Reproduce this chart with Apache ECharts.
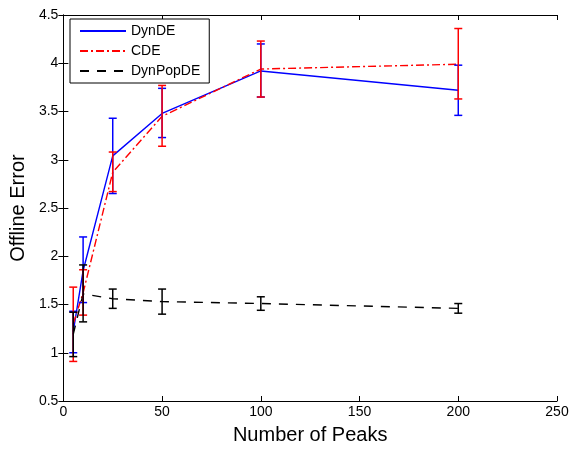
<!DOCTYPE html>
<html>
<head>
<meta charset="utf-8">
<script src="https://cdn.jsdelivr.net/npm/echarts@6/dist/echarts.min.js"></script>
<style>
  html, body { margin: 0; padding: 0; background: #fff; }
  #chart { width: 575px; height: 450px; }
</style>
</head>
<body>
<div id="chart"></div>
<script>
// Number of peaks in the landscape
var peaks = [5, 10, 25, 50, 100, 200];

// DynDE: mean offline error with lower / upper error bar ends
var dynDEMean = [1.22, 1.85, 3.04, 3.48, 3.92, 3.72];
var dynDELow  = [1.00, 1.52, 2.65, 3.23, 3.65, 3.46];
var dynDEHigh = [1.43, 2.20, 3.43, 3.74, 4.20, 3.98];

// CDE
var cdeMean = [1.30, 1.62, 2.87, 3.45, 3.94, 3.99];
var cdeLow  = [0.91, 1.39, 2.67, 3.14, 3.65, 3.63];
var cdeHigh = [1.68, 1.86, 3.08, 3.77, 4.23, 4.36];

// DynPopDE
var dpMean = [1.19, 1.61, 1.56, 1.53, 1.51, 1.46];
var dpLow  = [0.96, 1.32, 1.46, 1.40, 1.44, 1.41];
var dpHigh = [1.42, 1.91, 1.66, 1.66, 1.58, 1.51];

var xTicks = { min: 0, max: 250, interval: 50 };
var yTicks = { min: 0.5, max: 4.5, interval: 0.5 };

var FONT = 'Liberation Sans, Arial, Helvetica, sans-serif';

function pairs(xs, ys) {
  return xs.map(function (x, i) { return [x, ys[i]]; });
}
function triples(xs, lo, hi) {
  return xs.map(function (x, i) { return [x, lo[i], hi[i]]; });
}

// Vertical error bar with short horizontal caps
function errorBar(color) {
  return function (params, api) {
    var x = api.value(0);
    var pLo = api.coord([x, api.value(1)]);
    var pHi = api.coord([x, api.value(2)]);
    var hw = 4;
    var style = { stroke: color, lineWidth: 1.5 };
    return {
      type: 'group',
      children: [
        { type: 'line', shape: { x1: pLo[0], y1: pLo[1], x2: pHi[0], y2: pHi[1] }, style: style },
        { type: 'line', shape: { x1: pLo[0] - hw, y1: pLo[1], x2: pLo[0] + hw, y2: pLo[1] }, style: style },
        { type: 'line', shape: { x1: pHi[0] - hw, y1: pHi[1], x2: pHi[0] + hw, y2: pHi[1] }, style: style }
      ]
    };
  };
}

function lineSeries(name, data, color, type) {
  return {
    name: name,
    type: 'line',
    data: data,
    symbol: 'none',
    lineStyle: { color: color, width: 1.4, type: type },
    itemStyle: { color: color },
    z: 3
  };
}

function barSeries(name, data, color) {
  return {
    name: name,
    type: 'custom',
    renderItem: errorBar(color),
    data: data,
    encode: { x: 0, y: [1, 2] },
    z: 4
  };
}

var tickLabel = { color: '#000', fontFamily: FONT, fontSize: 14 };
var axisLine = { show: true, lineStyle: { color: '#000', width: 1 } };
var axisTick = { show: true, inside: true, length: 5, lineStyle: { color: '#000' } };

var chart = echarts.init(document.getElementById('chart'), null, { renderer: 'canvas' });

chart.setOption({
  animation: false,
  backgroundColor: '#fff',
  grid: { left: 62, right: 18, top: 15, bottom: 47, containLabel: false },
  legend: {
    data: ['DynDE', 'CDE', 'DynPopDE'],
    orient: 'vertical',
    left: 70,
    top: 19,
    itemWidth: 46,
    itemHeight: 14,
    itemGap: 6,
    padding: [5, 9, 5, 9],
    backgroundColor: '#fff',
    borderColor: '#000',
    borderWidth: 1,
    borderRadius: 0,
    selectedMode: false,
    itemStyle: { color: 'rgba(0,0,0,0)', borderWidth: 0 },
    textStyle: { color: '#000', fontFamily: FONT, fontSize: 14 }
  },
  xAxis: [
    {
      type: 'value', min: xTicks.min, max: xTicks.max, interval: xTicks.interval,
      name: 'Number of Peaks', nameLocation: 'middle', nameGap: 24,
      nameTextStyle: { color: '#000', fontFamily: FONT, fontSize: 20 },
      axisLine: axisLine, axisTick: axisTick,
      axisLabel: Object.assign({ margin: 4 }, tickLabel),
      splitLine: { show: false }
    },
    {
      type: 'value', position: 'top', min: xTicks.min, max: xTicks.max, interval: xTicks.interval,
      axisLine: axisLine, axisTick: axisTick, axisLabel: { show: false }, splitLine: { show: false }
    }
  ],
  yAxis: [
    {
      type: 'value', min: yTicks.min, max: yTicks.max, interval: yTicks.interval,
      name: 'Offline Error', nameLocation: 'middle', nameGap: 27,
      nameTextStyle: { color: '#000', fontFamily: FONT, fontSize: 20 },
      axisLine: axisLine, axisTick: axisTick,
      axisLabel: Object.assign({ margin: 5 }, tickLabel),
      splitLine: { show: false }
    },
    {
      type: 'value', position: 'right', min: yTicks.min, max: yTicks.max, interval: yTicks.interval,
      axisLine: axisLine, axisTick: axisTick, axisLabel: { show: false }, splitLine: { show: false }
    }
  ],
  series: [
    lineSeries('DynDE', pairs(peaks, dynDEMean), '#0000ff', 'solid'),
    lineSeries('CDE', pairs(peaks, cdeMean), '#ff0000', [8, 3, 2, 3]),
    lineSeries('DynPopDE', pairs(peaks, dpMean), '#000000', [9, 8]),
    barSeries('DynDE bars', triples(peaks, dynDELow, dynDEHigh), '#0000ff'),
    barSeries('CDE bars', triples(peaks, cdeLow, cdeHigh), '#ff0000'),
    barSeries('DynPopDE bars', triples(peaks, dpLow, dpHigh), '#000000')
  ]
});
</script>
</body>
</html>
